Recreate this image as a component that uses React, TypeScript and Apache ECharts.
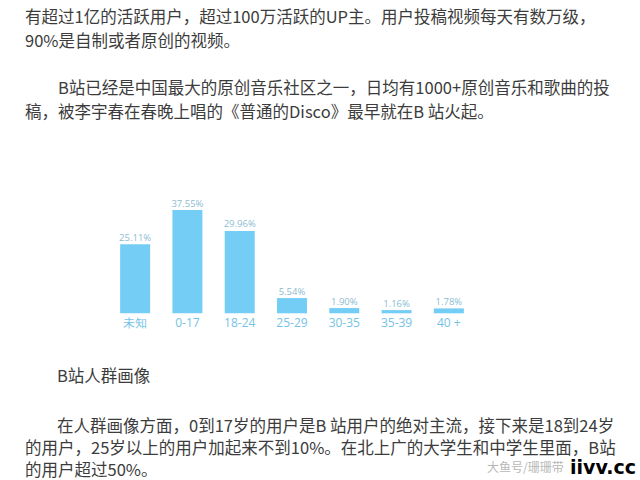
import React, { useEffect, useRef } from "react";
import * as echarts from "echarts";

const categories = ["未知", "0-17", "18-24", "25-29", "30-35", "35-39", "40 +"];
const values = [25.11, 37.55, 29.96, 5.54, 1.9, 1.16, 1.78];

const paragraphTop = [
  "有超过1亿的活跃用户，超过100万活跃的UP主。用户投稿视频每天有数万级，",
  "90%是自制或者原创的视频。",
];
const paragraphMusic = [
  "B站已经是中国最大的原创音乐社区之一，日均有1000+原创音乐和歌曲的投",
  "稿，被李宇春在春晚上唱的《普通的Disco》最早就在B 站火起。",
];
const captionText = "B站人群画像";
const paragraphBottom = [
  "在人群画像方面，0到17岁的用户是B 站用户的绝对主流，接下来是18到24岁",
  "的用户，25岁以上的用户加起来不到10%。在北上广的大学生和中学生里面，B站",
  "的用户超过50%。",
];
const watermarkText = "大鱼号/珊珊带";
const logoText = "iivv.cc";

const CJK = '"Noto Sans CJK SC", "Noto Sans", sans-serif';

export default function App() {
  const ref = useRef<HTMLDivElement>(null);
  useEffect(() => {
    if (!ref.current) return;
    const chart = echarts.init(ref.current, undefined, { renderer: "svg" });
    const textStyle = (x: number, y: number, t: string) => ({
      type: "text",
      x,
      y,
      style: {
        text: t,
        fill: "#3c3c3c",
        font: `16.5px ${CJK}`,
        lineHeight: 19,
        verticalAlign: "middle",
        align: "left",
      },
    });
    const texts: any[] = [
      textStyle(25, 16, paragraphTop[0]),
      textStyle(25, 40, paragraphTop[1]),
      textStyle(58, 87, paragraphMusic[0]),
      textStyle(25, 111, paragraphMusic[1]),
      textStyle(57, 375, captionText),
      textStyle(57, 425, paragraphBottom[0]),
      textStyle(25, 447, paragraphBottom[1]),
      textStyle(25, 469, paragraphBottom[2]),
      {
        type: "text",
        x: 487,
        y: 466,
        style: {
          text: watermarkText,
          fill: "#b8b8b8",
          font: `12px ${CJK}`,
          lineHeight: 14,
          verticalAlign: "middle",
          align: "left",
        },
      },
      {
        type: "text",
        x: 570,
        y: 467,
        style: {
          text: logoText,
          fill: new echarts.graphic.LinearGradient(0, 0, 1, 0, [
            { offset: 0, color: "#f0147a" },
            { offset: 1, color: "#a02ce0" },
          ]),
          font: `bold 19px "DejaVu Sans", sans-serif`,
          lineHeight: 18,
          verticalAlign: "middle",
          align: "left",
        },
      },
    ];
    chart.setOption({
      animation: false,
      backgroundColor: "#ffffff",
      grid: { left: 109, right: 165, top: 203.3, bottom: 166.7 },
      xAxis: {
        type: "category",
        data: categories,
        axisLine: { show: false },
        axisTick: { show: false },
        axisLabel: {
          color: "#74c2e6",
          fontSize: 12,
          fontFamily: '"Open Sans", sans-serif',
          margin: 3,
        },
      },
      yAxis: {
        type: "value",
        min: 0,
        max: 40,
        show: false,
        splitLine: { show: false },
      },
      series: [
        {
          type: "bar",
          data: values,
          barWidth: 30,
          itemStyle: { color: "#74cdf5" },
          label: {
            show: true,
            position: "top",
            distance: 2,
            color: "#8dbcd2",
            fontSize: 9.5,
            fontFamily: '"Open Sans", sans-serif',
            formatter: (p: any) => p.value.toFixed(2) + "%",
          },
        },
      ],
      graphic: texts,
    });
    return () => chart.dispose();
  }, []);
  return (
    <div
      ref={ref}
      style={{ position: "absolute", left: 0, top: 0, width: 640, height: 480 }}
    />
  );
}
